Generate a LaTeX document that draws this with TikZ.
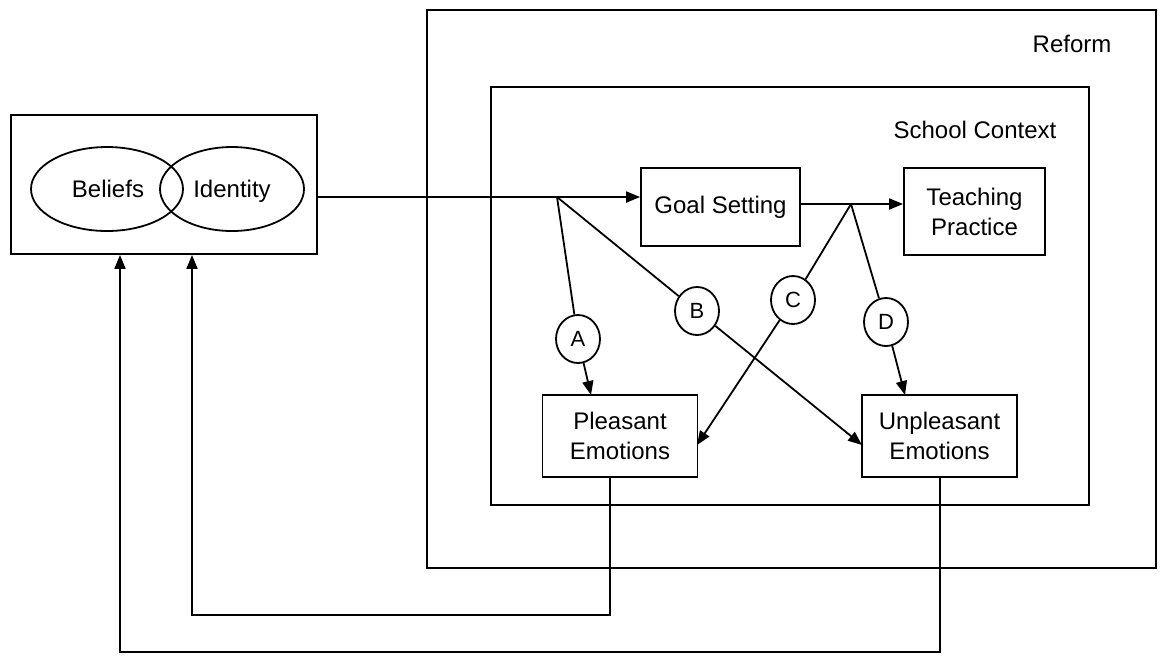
\documentclass[tikz,border=0pt]{standalone}
\usepackage{fontspec}
\setmainfont{Liberation Sans}
\usetikzlibrary{arrows.meta,shapes.geometric}
\begin{document}
\begin{tikzpicture}[x=0.5pt,y=-0.5pt,
  every node/.style={font=\fontsize{12}{15}\selectfont},
  ln/.style={line width=0.9pt},
  arr/.style={ln,-{Triangle[length=7pt,width=5.5pt]}},
  box/.style={draw,ln,rectangle,align=center,inner sep=0pt},
  frame/.style={draw,ln,rectangle,inner sep=0pt},
  ell/.style={draw,ln,ellipse,inner sep=0pt},
  lett/.style={draw,ln,ellipse,inner sep=0pt,minimum width=22pt,minimum height=24pt,font=\fontsize{11}{13}\selectfont}]
\useasboundingbox (0,0) rectangle (1161,655);
% frames
\node[frame,minimum width=364.5pt,minimum height=279pt] (reform) at (791.5,289) {};
\node (reformlbl) at (1072,44) {Reform};
\node[frame,minimum width=299pt,minimum height=209pt] (school) at (790,296) {};
\node (schoollbl) at (975,130) {School Context};
% left box
\node[frame,minimum width=153pt,minimum height=69.5pt] (leftbox) at (164,184.5) {};
\node[ell,minimum width=76pt,minimum height=42pt] (bel) at (107,189) {};
\node[ell,minimum width=72pt,minimum height=42pt] (idt) at (232,189) {};
\node[anchor=base] (beltxt) at (108,197) {Beliefs};
\node[anchor=base] (idttxt) at (232,197) {Identity};
% boxes
\node[box,minimum width=79.5pt,minimum height=39pt] (goal) at (720.5,207) {Goal Setting};
\node[box,minimum width=70.5pt,minimum height=43.5pt] (teach) at (974.5,211.5) {Teaching\\Practice};
\node[box,minimum width=77.5pt,minimum height=41pt] (pleas) at (620,436) {Pleasant\\Emotions};
\node[box,minimum width=77.5pt,minimum height=41pt] (unp) at (939.5,436) {Unpleasant\\Emotions};
% letter circles
\node[lett] (A) at (578,339) {A};
\node[lett] (B) at (697,311) {B};
\node[lett] (C) at (793,300) {C};
\node[lett] (D) at (886,322) {D};
% branch coordinates
\coordinate (br1) at (557,197);
\coordinate (br2) at (851,204);
\coordinate (pA) at (591,395);
\coordinate (pC) at (697,445);
\coordinate (uB) at (862,445);
\coordinate (uD) at (905,395);
\coordinate (f1a) at (610,615);
\coordinate (f1b) at (192,615);
\coordinate (f2a) at (940,652);
\coordinate (f2b) at (120,652);
% connectors
\draw[arr] (leftbox.east |- br1) -- (goal.west |- br1);
\draw[arr] (goal.east |- br2) -- (teach.west |- br2);
\draw[ln] (br1) -- (A);
\draw[arr] (A) -- (pA);
\draw[ln] (br1) -- (B);
\draw[arr] (B) -- (uB);
\draw[ln] (br2) -- (C);
\draw[arr] (C) -- (pC);
\draw[ln] (br2) -- (D);
\draw[arr] (D) -- (uD);
\draw[arr] (pleas.south -| f1a) -- (f1a) -- (f1b) -- (leftbox.south -| f1b);
\draw[arr] (unp.south -| f2a) -- (f2a) -- (f2b) -- (leftbox.south -| f2b);
\end{tikzpicture}
\end{document}
